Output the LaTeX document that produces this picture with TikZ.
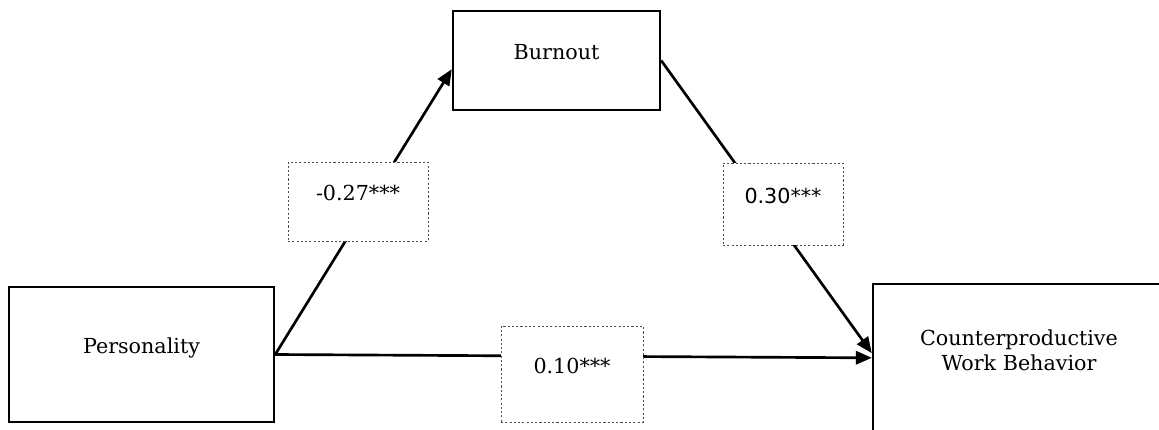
\documentclass[tikz,border=0pt]{standalone}
\usepackage{fontspec}
\setmainfont{DejaVu Serif}
\newfontfamily\coefsans{DejaVu Sans}
\usetikzlibrary{arrows.meta}
\tikzset{
  var/.style={draw, line width=1.8pt, rectangle},
  oneline/.style={text height=8pt, text depth=9pt},
  coef/.style={draw=black!70, fill=white, line width=0.7pt, dash pattern=on 1.6pt off 1.6pt, oneline},
}
\begin{document}
\begin{tikzpicture}[x=0.75pt, y=-0.75pt, font=\fontsize{15.5}{18.75}\selectfont]
  \clip (0,0) rectangle (1159,429);
  \draw
    (141.5,354.5) node[var, oneline, minimum width=198.75pt, minimum height=101.25pt] (pers) {Personality}
    (556.5,60.5) node[var, oneline, minimum width=155.25pt, minimum height=74.25pt] (burn) {Burnout}
    (1019,364.5) node[var, align=center, text depth=21.8pt, minimum width=219pt, minimum height=120.75pt] (cwb) {Counterproductive\\Work Behavior};
  \begin{scope}[-{Triangle[length=12pt,width=10pt]}, line width=2pt]
    \draw (pers.east) to ([yshift=-6.5pt]burn.west);
    \draw (burn.east) to ([yshift=8.5pt]cwb.west);
    \draw (pers.east) to ([yshift=5pt]cwb.west);
  \end{scope}
  \draw
    (358,201.5) node[coef, minimum width=105pt, minimum height=59.25pt] (pb) {-0.27***}
    (783,204) node[coef, minimum width=90pt, minimum height=61.5pt] (bc) {\coefsans 0.30***}
    (572,374) node[coef, minimum width=106.5pt, minimum height=72pt] (pc) {0.10***};
\end{tikzpicture}
\end{document}
